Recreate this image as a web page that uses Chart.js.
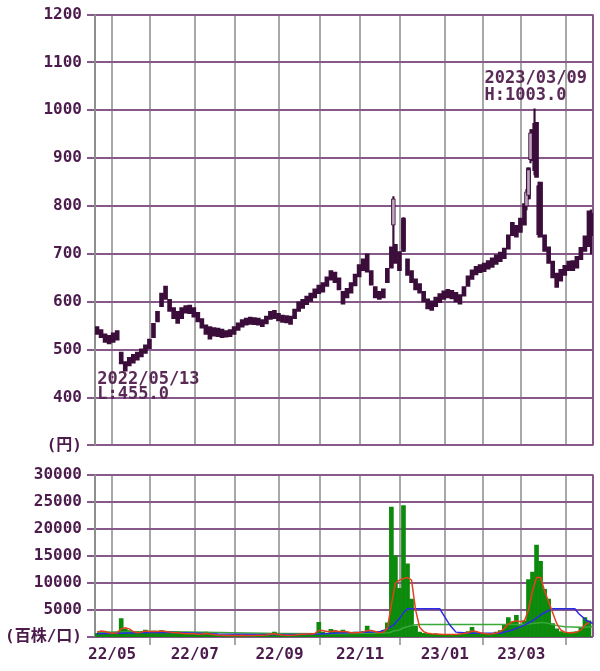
<!DOCTYPE html>
<html>
<head>
<meta charset="utf-8">
<script src="https://cdn.jsdelivr.net/npm/chart.js@4.4.0/dist/chart.umd.min.js"></script>
<style>
  body { margin: 0; background: #fff; }
  #wrap { position: relative; width: 600px; height: 671px; }
  #price-wrap { position: absolute; left: 0; top: 0; width: 600px; height: 460px; }
  #vol-wrap { position: absolute; left: 0; top: 460px; width: 600px; height: 211px; }
</style>
</head>
<body>
<div id="wrap">
  <div id="price-wrap"><canvas id="price-chart"></canvas></div>
  <div id="vol-wrap"><canvas id="vol-chart"></canvas></div>
</div>
<script>
// x axis is trading-day index, 2022/04/19 = day 0
const dayMin = -1;
const dayMax = 246;
const monthStart = [8, 27, 49, 69, 91, 111, 131, 151, 173, 192, 211, 233];
const monthLabels = ['22/05', '', '22/07', '', '22/09', '', '22/11', '', '23/01', '', '23/03', ''];

// price samples every 2 trading days
const sampleDays = Array.from({ length: 123 }, (_, i) => i * 2);
const priceLow = [
  532, 525, 515, 512, 515, 520, 470, 455, 466, 472,
  478, 485, 492, 502, 525, 558, 590, 605, 580, 565,
  555, 565, 576, 575, 568, 558, 545, 532, 522, 528,
  527, 525, 526, 527, 532, 540, 547, 551, 553, 552,
  551, 548, 554, 563, 565, 560, 557, 556, 553, 565,
  580, 586, 594, 601, 608, 617, 620, 632, 645, 640,
  625, 595, 608, 618, 633, 652, 665, 662, 635, 608,
  605, 608, 640, 670, 680, 665, 705, 655, 640, 625,
  618, 600, 585, 582, 590, 598, 605, 608, 606, 600,
  595, 612, 632, 647, 656, 661, 663, 668, 672, 678,
  684, 690, 710, 738, 735, 745, 760, 815, 895, 860,
  735, 705, 680, 650, 630, 643, 655, 665, 665, 670,
  688, 705, 715
];
const priceHigh = [
  548, 542, 533, 530, 535, 540, 495, 475, 484, 490,
  495, 502, 510, 522, 555, 580, 618, 633, 605, 588,
  580, 588, 592, 593, 588, 578, 565, 552, 548, 546,
  545, 543, 540, 542, 548, 556, 563, 566, 568, 567,
  566, 563, 570, 580, 582, 576, 572, 571, 570, 585,
  600, 605, 612, 618, 627, 635, 640, 652, 665, 662,
  650, 622, 628, 640, 658, 678, 690, 700, 665, 632,
  622, 627, 670, 715, 720, 705, 775, 690, 665, 648,
  638, 622, 606, 602, 610, 617, 623, 626, 624, 620,
  615, 632, 654, 667, 674, 678, 681, 686, 692, 698,
  704, 712, 740, 766, 760, 775, 805, 880, 960, 975,
  850, 740, 715, 685, 660, 668, 676, 685, 686, 695,
  714, 738, 790
];

// the big candles that stand out
const candleDay = [147, 152, 213, 214, 215, 217, 219, 245];
const candleOpen = [760, 771, 800, 822, 897, 973, 843, 785];
const candleClose = [815, 711, 830, 876, 953, 874, 740, 738];
const candleLow = [712, 705, 792, 815, 890, 865, 735, 700];
const candleHigh = [820, 776, 835, 880, 960, 1003, 850, 792];

const highMark = { day: 217, date: '2023/03/09', value: 1003.0 };
const lowMark = { day: 14, date: '2022/05/13', value: 455.0 };

// volume (hundreds of shares), same 2-day samples
const volume = [
  700, 1000, 900, 500, 700, 900, 3400, 1500, 1200, 800,
  700, 1000, 1300, 800, 1100, 900, 1200, 1000, 700, 800,
  900, 600, 500, 700, 500, 400, 600, 900, 500, 400,
  350, 300, 300, 350, 300, 300, 350, 300, 300, 300,
  350, 300, 400, 600, 900, 400, 300, 300, 350, 400,
  500, 600, 500, 600, 700, 2700, 900, 700, 1400, 1200,
  900, 1300, 800, 700, 900, 800, 1000, 2000, 900, 700,
  800, 1200, 2600, 24000, 15000, 9000, 24300, 13500, 7000, 2000,
  900, 700, 600, 500, 600, 500, 400, 450, 400, 500,
  600, 700, 1000, 1800, 800, 700, 600, 500, 600, 900,
  1200, 2200, 3600, 2800, 4000, 2100, 3000, 10600, 12000, 17000,
  14000, 8800, 7000, 2500, 1500, 1000, 800, 700, 900, 1000,
  1800, 3600, 3000
];
const volMa5 = [
  900, 1100, 1000, 800, 700, 800, 1500, 1700, 1500, 1000,
  800, 900, 1100, 1000, 1000, 1000, 1100, 1000, 900, 800,
  800, 700, 600, 600, 600, 500, 550, 650, 550, 400,
  350, 320, 300, 320, 300, 300, 320, 300, 300, 300,
  320, 320, 380, 550, 600, 450, 350, 320, 330, 380,
  450, 520, 540, 560, 650, 1200, 1200, 1000, 1000, 1100,
  1000, 1000, 950, 800, 800, 850, 900, 1200, 1200, 1000,
  800, 900, 1600, 6000, 10000, 10500, 10800, 11000, 10500, 5000,
  1800, 1000, 700, 600, 550, 500, 450, 450, 450, 480,
  550, 650, 800, 1100, 1000, 800, 650, 550, 600, 750,
  1000, 1600, 2400, 2800, 3000, 2800, 3000, 5000, 8500, 11000,
  11000, 8500, 6500, 4500, 2500, 1300, 900, 800, 800, 900,
  1300, 2200, 2700
];
const ma25Days = [0, 20, 34, 50, 60, 80, 100, 110, 120, 130, 140, 144, 147, 150, 152, 154, 170, 172, 175, 178, 186, 200, 206, 212, 216, 221, 224, 226, 237, 239, 243, 246];
const ma25 = [600, 800, 900, 700, 550, 450, 450, 550, 750, 850, 950, 1500, 2200, 3400, 4500, 5200, 5200, 4000, 2200, 900, 700, 700, 1300, 2200, 3000, 4300, 4900, 5200, 5200, 4300, 3000, 2500];
const ma75Days = [0, 30, 60, 90, 120, 140, 145, 147, 150, 152, 154, 157, 160, 212, 214, 218, 221, 224, 228, 232, 240, 246];
const ma75 = [900, 1000, 850, 650, 600, 750, 800, 1100, 1300, 1700, 1900, 2200, 2300, 2300, 2400, 2600, 2700, 2500, 2100, 1900, 1800, 1900];

const TXT = '#4b1b4b';
const PURPLE = '#87598b';
const GRAY = '#a8a8a8';
const AXIS = '#8e8e8e';
const DARK = '#3b0d3a';
const LIGHT = '#bda6bd';
const FONT = "'DejaVu Sans Mono', 'Noto Sans CJK JP', monospace";

// grid drawn by hand: gray month lines, purple value lines
const gridPlugin = {
  id: 'paperGrid',
  beforeDatasetsDraw(chart, args, opts) {
    const { ctx, chartArea: a, scales: { x, y } } = chart;
    const line = (x1, y1, x2, y2) => {
      ctx.beginPath();
      ctx.moveTo(x1, y1);
      ctx.lineTo(x2, y2);
      ctx.stroke();
    };
    ctx.save();
    ctx.lineWidth = 2;
    x.ticks.forEach((t, i) => {
      const px = Math.round(x.getPixelForValue(t.value));
      ctx.strokeStyle = t.value === dayMax ? PURPLE : GRAY;
      line(px, a.top, px, a.bottom);
      if (opts.monthTicks && monthLabels[i] === '') {
        ctx.strokeStyle = GRAY;
        line(px, a.bottom, px, a.bottom + 8);
      }
    });
    ctx.strokeStyle = PURPLE;
    y.ticks.forEach(t => {
      const py = Math.round(y.getPixelForValue(t.value));
      line(a.left - 8, py, a.right, py);
    });
    ctx.strokeStyle = AXIS;
    line(a.left, a.top, a.left, a.bottom);
    ctx.restore();
  }
};

function xScale(showLabels) {
  return {
    type: 'linear',
    min: dayMin,
    max: dayMax,
    offset: false,
    afterBuildTicks: s => {
      s.ticks = monthStart.map(d => ({ value: d - 0.5 })).concat([{ value: dayMax }]);
    },
    afterFit: s => { s.height = showLabels ? 34 : 14; },
    ticks: {
      display: showLabels,
      autoSkip: false,
      maxRotation: 0,
      minRotation: 0,
      padding: 0,
      color: TXT,
      font: { family: FONT, size: 16, weight: 'bold' },
      callback: (v, i) => monthLabels[i] || ''
    },
    grid: { display: false, offset: false, drawTicks: true, tickLength: 8 },
    border: { display: false }
  };
}

function yScale(min, max, step, unitLabel) {
  return {
    min,
    max,
    afterFit: s => { s.width = 95; },
    ticks: {
      stepSize: step,
      color: TXT,
      padding: 5,
      font: { family: FONT, size: 16, weight: 'bold' },
      callback: v => (v === min ? unitLabel : String(v))
    },
    grid: { display: false, drawTicks: true, tickLength: 8 },
    border: { display: false }
  };
}

// high / low notes on the price chart
const markerPlugin = {
  id: 'markers',
  afterDatasetsDraw(chart) {
    const { ctx, scales: { x, y } } = chart;
    ctx.save();
    ctx.font = 'bold 17px ' + FONT;
    ctx.fillStyle = '#5a2a57';
    ctx.textBaseline = 'middle';
    const hx = x.getPixelForValue(highMark.day);
    const hy = y.getPixelForValue(highMark.value);
    ctx.fillText(highMark.date, hx - 50, hy - 30);
    ctx.fillText('H:' + highMark.value.toFixed(1), hx - 50, hy - 13);
    const lx = x.getPixelForValue(lowMark.day);
    const ly = y.getPixelForValue(lowMark.value);
    ctx.fillText(lowMark.date, lx - 28, ly + 8);
    ctx.fillText('L:' + lowMark.value.toFixed(1), lx - 28, ly + 23);
    ctx.restore();
  }
};

new Chart(document.getElementById('price-chart'), {
  type: 'bar',
  data: {
    datasets: [
      {
        data: sampleDays.map((d, i) => ({ x: d, y: [priceLow[i], priceHigh[i]] })),
        backgroundColor: DARK,
        barThickness: 4,
        grouped: false,
        order: 3
      },
      {
        data: candleDay.map((d, i) => ({ x: d, y: [candleLow[i], candleHigh[i]] })),
        backgroundColor: DARK,
        barThickness: 1.5,
        grouped: false,
        order: 2
      },
      {
        data: candleDay.map((d, i) => ({ x: d, y: [candleOpen[i], candleClose[i]] })),
        backgroundColor: candleDay.map((d, i) => (candleClose[i] > candleOpen[i] ? LIGHT : DARK)),
        borderColor: DARK,
        borderWidth: 1,
        borderSkipped: false,
        barThickness: 4,
        grouped: false,
        order: 1
      }
    ]
  },
  options: {
    responsive: true,
    maintainAspectRatio: false,
    animation: false,
    layout: { padding: { top: 10, right: 7, left: 0, bottom: 0 } },
    plugins: { legend: { display: false }, tooltip: { enabled: false }, paperGrid: { monthTicks: false } },
    scales: {
      x: xScale(false),
      y: yScale(300, 1200, 100, '(円)')
    }
  },
  plugins: [gridPlugin, markerPlugin]
});

new Chart(document.getElementById('vol-chart'), {
  type: 'bar',
  data: {
    datasets: [
      {
        data: sampleDays.map((d, i) => ({ x: d, y: volume[i] })),
        backgroundColor: '#0c8a0c',
        barThickness: 4,
        grouped: false,
        order: 4
      },
      {
        type: 'line',
        data: ma75Days.map((d, i) => ({ x: d, y: ma75[i] })),
        borderColor: '#39a839',
        borderWidth: 1.5,
        pointRadius: 0,
        order: 3
      },
      {
        type: 'line',
        data: ma25Days.map((d, i) => ({ x: d, y: ma25[i] })),
        borderColor: '#2b2be6',
        borderWidth: 1.5,
        pointRadius: 0,
        order: 2
      },
      {
        type: 'line',
        data: sampleDays.map((d, i) => ({ x: d, y: volMa5[i] })),
        borderColor: '#e4411c',
        borderWidth: 1.5,
        pointRadius: 0,
        order: 1
      }
    ]
  },
  options: {
    responsive: true,
    maintainAspectRatio: false,
    animation: false,
    layout: { padding: { top: 10, right: 7, left: 0, bottom: 0 } },
    plugins: { legend: { display: false }, tooltip: { enabled: false }, paperGrid: { monthTicks: true } },
    scales: {
      x: xScale(true),
      y: yScale(0, 30000, 5000, '(百株/口)')
    }
  },
  plugins: [gridPlugin]
});
</script>
</body>
</html>
